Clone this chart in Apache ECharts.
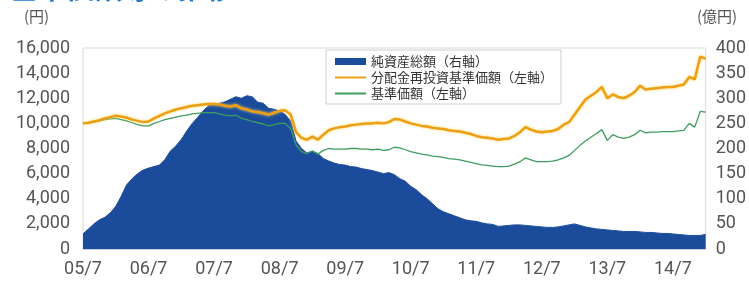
<!DOCTYPE html>
<html>
<head>
<meta charset="utf-8">
<script src="https://cdn.jsdelivr.net/npm/echarts@6/dist/echarts.min.js"></script>
<style>
  html, body { margin: 0; padding: 0; background: #fff; }
  #chart { width: 749px; height: 282px; }
</style>
</head>
<body>
<div id="chart"></div>
<script>
// monthly points, 2005/7 .. 2015/1
const startYear = 5;
const startMonth = 7;
const pointCount = 115;

// 純資産総額 (億円, right axis)
const netAssets = [
  30, 40, 50, 58, 63, 72, 85, 105, 128, 140, 150, 157,
  161, 164, 167, 178, 195, 205, 218, 235, 250, 262, 275, 285,
  288, 290, 293, 298, 303, 300, 305, 303, 292, 290, 280, 278,
  275, 268, 255, 215, 200, 191, 195, 190, 180, 175, 171, 168,
  167, 164, 163, 160, 158, 156, 153, 150, 152, 148, 140, 135,
  125, 118, 108, 100, 90, 80, 74, 70, 66, 62, 58, 56,
  55, 52, 50, 49, 45, 46, 47, 48, 48, 47, 46, 45,
  44, 43, 43, 44, 46, 48, 50, 47, 44, 42, 40, 39,
  38, 37, 36, 35, 35, 35, 34, 33, 33, 32, 31, 31,
  30, 29, 28, 27, 27, 27, 29
];

// 分配金再投資基準価額 (円, left axis)
const reinvestedNav = [
  10000, 10050, 10150, 10250, 10400, 10500, 10600, 10550, 10450, 10300, 10200, 10100,
  10150, 10400, 10600, 10800, 10950, 11100, 11200, 11300, 11400, 11450, 11500, 11550,
  11550, 11500, 11400, 11350, 11450, 11200, 11100, 10950, 10900, 10800, 10700, 10850,
  11000, 11050, 10700, 9300, 8850, 8700, 8950, 8700, 9100, 9450, 9600, 9700,
  9750, 9850, 9900, 9950, 10000, 10000, 10050, 10000, 10100, 10350, 10300, 10150,
  10000, 9900, 9800, 9750, 9650, 9600, 9550, 9450, 9400, 9350, 9250, 9150,
  9000, 8900, 8850, 8800, 8700, 8750, 8800, 9000, 9300, 9700, 9500, 9350,
  9300, 9350, 9400, 9550, 9900, 10100, 10700, 11300, 11900, 12200, 12500, 12900,
  12000, 12300, 12100, 12000, 12200, 12500, 13000, 12700, 12750, 12800, 12850, 12900,
  12900, 13000, 13100, 13700, 13500, 15300, 15150
];

// 基準価額 (円, left axis)
const nav = [
  10000, 10050, 10100, 10200, 10300, 10350, 10400, 10300, 10200, 10050, 9900, 9800,
  9800, 10000, 10150, 10300, 10400, 10500, 10600, 10650, 10750, 10800, 10850, 10850,
  10850, 10750, 10650, 10600, 10650, 10400, 10300, 10150, 10050, 9950, 9800, 9900,
  10000, 10000, 9600, 8300, 7750, 7600, 7800, 7550, 7850, 8000, 7950, 7950,
  7950, 8000, 8000, 7950, 7950, 7900, 7950, 7850, 7900, 8100, 8050, 7900,
  7750, 7650, 7550, 7500, 7400, 7350, 7300, 7200, 7150, 7100, 7000, 6900,
  6800, 6700, 6650, 6600, 6550, 6550, 6600, 6750, 6950, 7250, 7100, 6950,
  6950, 6950, 7000, 7100, 7250, 7450, 7850, 8250, 8600, 8900, 9200, 9500,
  8650, 9100, 8900, 8800, 8900, 9100, 9450, 9250, 9300, 9300, 9350, 9350,
  9350, 9400, 9450, 10000, 9700, 10950, 10900
];

const seriesNames = ['純資産総額（右軸）', '分配金再投資基準価額（左軸）', '基準価額（左軸）'];

let months = [];
for (let i = 0; i < pointCount; i++) {
  let m = startMonth - 1 + i;
  let y = startYear + Math.floor(m / 12);
  months.push(String(y).padStart(2, '0') + '/' + ((m % 12) + 1));
}

var myChart = echarts.init(document.getElementById('chart'));

// line-only legend icons: hide the symbol dot
const noDot = { color: 'rgba(0,0,0,0)', borderColor: 'rgba(0,0,0,0)', borderWidth: 0, opacity: 0 };

var option = {
  animation: false,
  textStyle: { fontFamily: 'Roboto, "Noto Sans CJK JP", sans-serif' },
  grid: {
    left: 83, right: 43, top: 48, bottom: 33,
    show: true, borderColor: '#d9d9d9', borderWidth: 1
  },
  legend: {
    orient: 'vertical',
    left: 326, top: 50,
    padding: [4, 8, 3, 8],
    itemGap: 1,
    itemWidth: 31, itemHeight: 7,
    backgroundColor: '#fff',
    borderColor: '#cfcfcf', borderWidth: 1,
    textStyle: {
      fontFamily: '"Noto Sans CJK JP", sans-serif',
      fontSize: 13, lineHeight: 15, color: '#333'
    },
    data: [
      { name: seriesNames[0], icon: 'rect' },
      { name: seriesNames[1], itemStyle: noDot },
      { name: seriesNames[2], itemStyle: noDot }
    ]
  },
  xAxis: {
    type: 'category',
    boundaryGap: false,
    data: months,
    axisLine: { lineStyle: { color: '#c9d1dd', width: 1 } },
    axisTick: {
      inside: true, length: 3,
      interval: (i) => i % 12 === 0,
      lineStyle: { color: '#c9d1dd' }
    },
    axisLabel: {
      interval: (i) => i % 12 === 0,
      margin: 12,
      fontSize: 18, color: '#555'
    },
    splitLine: { show: false }
  },
  yAxis: [
    {
      type: 'value',
      min: 0, max: 16000, interval: 2000,
      axisLine: { show: false },
      axisTick: { show: false },
      splitLine: { show: false },
      axisLabel: {
        margin: 13, fontSize: 18, color: '#555',
        formatter: (v) => v.toLocaleString('en-US')
      }
    },
    {
      type: 'value',
      min: 0, max: 400, interval: 50,
      axisLine: { show: false },
      axisTick: { show: false },
      splitLine: { show: false },
      axisLabel: { margin: 10, fontSize: 18, color: '#555' }
    }
  ],
  graphic: [
    {
      type: 'text', left: 10, top: -26,
      style: {
        text: '基準価額等の推移',
        font: 'bold 28px "Noto Sans CJK JP", sans-serif',
        fill: '#2379c6'
      }
    },
    {
      type: 'text', left: 24, top: 9,
      style: { text: '(円)', font: '15px "Noto Sans CJK JP", sans-serif', fill: '#555' }
    },
    {
      type: 'text', left: 697, top: 9,
      style: { text: '(億円)', font: '15px "Noto Sans CJK JP", sans-serif', fill: '#555' }
    }
  ],
  series: [
    {
      name: seriesNames[0],
      type: 'line',
      yAxisIndex: 1,
      symbol: 'none',
      color: '#1b4c9c',
      lineStyle: { width: 1, color: '#1b4c9c' },
      areaStyle: { color: '#1b4c9c', opacity: 1 },
      data: netAssets,
      z: 1
    },
    {
      name: seriesNames[2],
      type: 'line',
      yAxisIndex: 0,
      symbol: 'none',
      color: '#3f9c5e',
      lineStyle: { width: 1.3, color: '#3f9c5e' },
      data: nav,
      z: 2
    },
    {
      name: seriesNames[1],
      type: 'line',
      yAxisIndex: 0,
      symbol: 'none',
      color: '#ec9f14',
      lineStyle: {
        width: 2.5, color: '#ec9f14',
        shadowColor: 'rgba(255, 214, 90, 0.9)', shadowBlur: 3
      },
      data: reinvestedNav,
      z: 3
    }
  ]
};

option && myChart.setOption(option);
</script>
</body>
</html>
